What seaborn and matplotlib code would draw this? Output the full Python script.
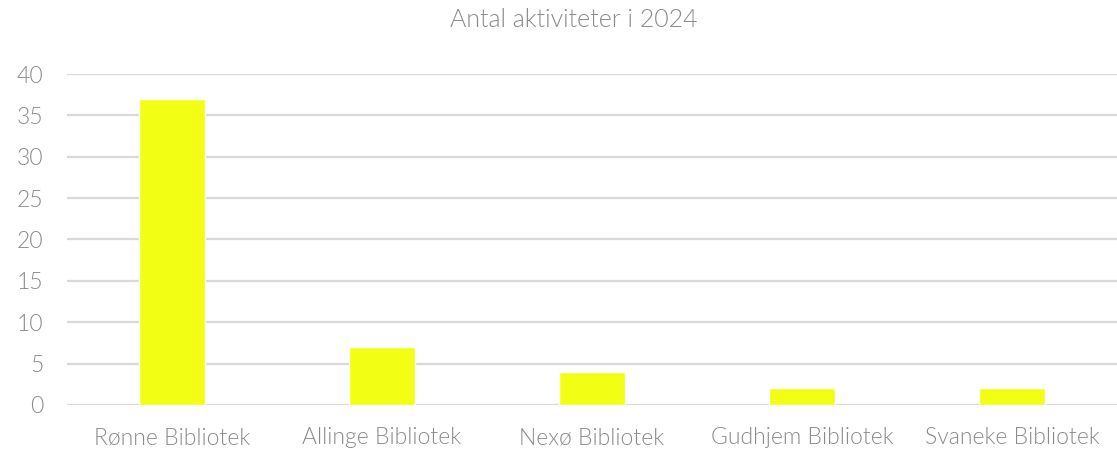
import matplotlib
matplotlib.use("Agg")
import matplotlib.pyplot as plt
import pandas as pd
import seaborn as sns

libraries = ["Rønne Bibliotek", "Allinge Bibliotek", "Nexø Bibliotek", "Gudhjem Bibliotek", "Svaneke Bibliotek"]
activities = [37, 7, 4, 2, 2]
y_ticks = [0, 5, 10, 15, 20, 25, 30, 35, 40]

sns.set_theme(style="white")
plt.rcParams["font.family"] = ["Lato", "DejaVu Sans"]

df = pd.DataFrame({"bibliotek": libraries, "antal": activities})

fig = plt.figure(figsize=(11.17, 4.54), dpi=100)
ax = fig.add_axes([0.06, 0.108, 0.94, 0.729])
sns.barplot(data=df, x="bibliotek", y="antal", ax=ax, color="#F2FF14", width=0.315, saturation=1)

ax.set_ylim(0, 40)
ax.set_xlim(-0.5, 4.5)
ax.set_yticks(y_ticks)
ax.yaxis.grid(True, color="#d9d9d9", linewidth=1.6)
ax.set_axisbelow(True)
for s in ax.spines.values():
    s.set_visible(False)
ax.set_xlabel("")
ax.set_ylabel("")
ax.tick_params(axis="both", length=0, labelsize=16.5, labelcolor="#8a8a8a")
ax.tick_params(axis="x", pad=16)
ax.tick_params(axis="y", pad=17)
for lbl in ax.get_xticklabels() + ax.get_yticklabels():
    lbl.set_fontweight(300)

fig.text(0.514, 0.955, "Antal aktiviteter i 2024", ha="center", va="center",
         fontsize=18, color="#8a8a8a", fontweight=300)

fig.savefig("out.png", dpi=100)
